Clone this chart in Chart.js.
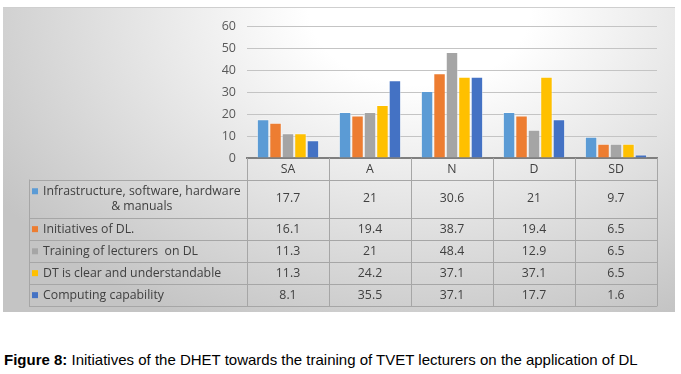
<!DOCTYPE html>
<html>
<head>
<meta charset="utf-8">
<script src="https://cdn.jsdelivr.net/npm/chart.js@4/dist/chart.umd.min.js"></script>
<style>
  body { margin: 0; background: #fff; width: 681px; height: 374px; overflow: hidden; position: relative; }
  #panel {
    position: absolute; left: 3px; top: 7px; width: 672px; height: 305px;
    background: radial-gradient(ellipse 75% 115% at 62% 0%, #ffffff 22%, #c4c4c4 100%);
    border-top: 1px solid #cfcfcf; box-sizing: border-box;
  }
  #caption {
    position: absolute; left: 4px; top: 351px; white-space: nowrap;
    font-family: "Liberation Sans", Arial, sans-serif; font-size: 15px; color: #000;
  }
</style>
</head>
<body>
<div id="panel"><canvas id="chart" width="672" height="305"></canvas></div>
<div id="caption"><b>Figure 8:</b> Initiatives of the DHET towards the training of TVET lecturers on the application of DL</div>
<script>
const categories = ['SA', 'A', 'N', 'D', 'SD'];
const seriesNames = [
  ['Infrastructure, software, hardware', '& manuals'],
  ['Initiatives of DL.'],
  ['Training of lecturers  on DL'],
  ['DT is clear and understandable'],
  ['Computing capability']
];
const infrastructure = [17.7, 21, 30.6, 21, 9.7];
const initiatives = [16.1, 19.4, 38.7, 19.4, 6.5];
const training = [11.3, 21, 48.4, 12.9, 6.5];
const dtClear = [11.3, 24.2, 37.1, 37.1, 6.5];
const computing = [8.1, 35.5, 37.1, 17.7, 1.6];
const colors = ['#5B9BD5', '#ED7D31', '#A5A5A5', '#FFC000', '#4472C4'];

const allSeries = [infrastructure, initiatives, training, dtClear, computing];
const textFont = '"Open Sans", sans-serif';
const textColor = '#404040';

// data table drawn under the plot, aligned to the x scale
const dataTable = {
  id: 'dataTable',
  afterDraw(chart) {
    const ctx = chart.ctx;
    const area = chart.chartArea;
    const x = chart.scales.x;
    const colW = (area.right - area.left) / categories.length;
    const headerH = 21.5;
    const rowH = [38.5, 22.3, 22, 21.7, 22.3];
    const legendLeft = 26;
    const markerX = 29, textX = 40;

    const rowTops = [];
    let yy = area.bottom + headerH;
    rowH.forEach(h => { rowTops.push(yy); yy += h; });
    const bottom = yy;

    ctx.save();
    ctx.strokeStyle = '#a6a6a6';
    ctx.lineWidth = 1;
    ctx.beginPath();
    // verticals for category columns
    for (let i = 0; i <= categories.length; i++) {
      const px = Math.round(area.left + i * colW) + 0.5;
      ctx.moveTo(px, area.bottom);
      ctx.lineTo(px, bottom);
    }
    ctx.moveTo(legendLeft + 0.5, rowTops[0]);
    ctx.lineTo(legendLeft + 0.5, bottom);
    // horizontals
    ctx.moveTo(legendLeft, Math.round(rowTops[0]) + 0.5);
    ctx.lineTo(area.right, Math.round(rowTops[0]) + 0.5);
    rowTops.slice(1).concat([bottom]).forEach(t => {
      ctx.moveTo(legendLeft, Math.round(t) + 0.5);
      ctx.lineTo(area.right, Math.round(t) + 0.5);
    });
    ctx.stroke();

    ctx.fillStyle = textColor;
    ctx.font = '12.3px ' + textFont;
    ctx.textBaseline = 'middle';
    ctx.textAlign = 'center';
    categories.forEach((c, i) => {
      ctx.fillText(c, x.getPixelForValue(i), area.bottom + headerH / 2 + 1);
    });

    allSeries.forEach((vals, r) => {
      const top = rowTops[r];
      const mid = top + rowH[r] / 2;
      const lines = seriesNames[r];
      ctx.fillStyle = colors[r];
      ctx.fillRect(markerX, mid - 3 - (lines.length > 1 ? 7.5 : 0), 6, 6);
      ctx.fillStyle = textColor;
      ctx.textAlign = 'left';
      if (lines.length > 1) {
        ctx.fillText(lines[0], textX, mid - 7.5);
        ctx.textAlign = 'center';
        const w0 = ctx.measureText(lines[0]).width;
        ctx.fillText(lines[1], textX + w0 / 2, mid + 7.5);
      } else {
        ctx.fillText(lines[0], textX, mid);
      }
      ctx.textAlign = 'center';
      vals.forEach((v, i) => {
        ctx.fillText(String(v), x.getPixelForValue(i), mid);
      });
    });
    ctx.restore();
  }
};

new Chart(document.getElementById('chart'), {
  type: 'bar',
  data: {
    labels: categories,
    datasets: allSeries.map((vals, i) => ({
      label: seriesNames[i].join(' '),
      data: vals,
      backgroundColor: colors[i],
      borderColor: 'rgba(255,255,255,0.45)',
      borderWidth: 1,
      categoryPercentage: 0.76,
      barPercentage: 1.0
    }))
  },
  options: {
    responsive: false,
    animation: false,
    layout: { padding: { top: 17, right: 18, bottom: 155, left: 0 } },
    plugins: { legend: { display: false }, tooltip: { enabled: false } },
    scales: {
      x: {
        ticks: { display: false },
        grid: { display: false, drawTicks: false },
        border: { display: true, color: '#7f7f7f', width: 2 }
      },
      y: {
        min: 0, max: 60,
        ticks: { stepSize: 10, padding: 11, color: '#595959', font: { family: textFont, size: 12.5 } },
        grid: { color: '#c4c4c4', drawTicks: false },
        border: { display: false },
        afterFit(scale) { scale.width = 244; }
      }
    }
  },
  plugins: [dataTable]
});
</script>
</body>
</html>
